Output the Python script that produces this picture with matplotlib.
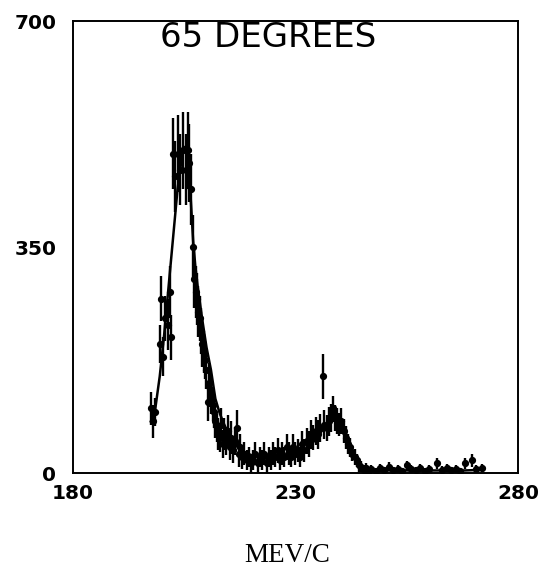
import matplotlib
matplotlib.use("Agg")
import matplotlib.pyplot as plt

# measured spectrum points (momentum MeV/c, counts, error)
mom = [197.6, 198.0, 198.4, 199.5, 199.8, 200.3, 200.7, 201.3, 201.8, 202.1,
       202.5, 203.0, 203.6, 204.1, 204.7, 205.3, 205.8, 206.1, 206.5, 206.9,
       207.3, 207.6, 207.9, 208.2, 208.5, 208.8, 209.1, 209.4, 209.7, 210.0,
       210.3, 210.5, 210.8, 211.1, 211.4, 211.7, 212.0, 212.3, 212.6, 213.0,
       213.3, 213.7, 214.0, 214.4, 214.8, 215.2, 215.6, 216.0, 216.4, 216.8,
       217.2, 217.6, 218.0, 218.5, 219.0, 219.5, 220.0, 220.5, 221.0, 221.5,
       222.0, 222.5, 223.0, 223.5, 224.0, 224.5, 225.0, 225.5, 226.0, 226.5,
       227.0, 227.5, 228.0, 228.5, 229.0, 229.5, 230.0, 230.5, 231.0, 231.5,
       232.0, 232.5, 233.0, 233.5, 234.0, 234.5, 235.0, 235.5, 236.2, 236.5,
       237.0, 237.5, 238.0, 238.4, 238.8, 239.3, 239.8, 240.3, 240.8, 241.3,
       241.8, 242.3, 242.8, 243.3, 243.8, 244.3, 244.8, 245.3, 245.8, 246.3,
       247.0, 248.0, 249.0, 250.0, 251.0, 252.0, 253.0, 254.0, 255.0, 256.0,
       257.0, 258.0, 259.0, 260.0, 261.8, 263.0, 264.0, 265.0, 266.0, 267.0,
       268.1, 269.7, 270.5, 271.9]
counts = [100, 80, 95, 200, 270, 180, 240, 230, 280, 210,
          495, 460, 495, 470, 500, 470, 500, 480, 440, 350,
          300, 280, 270, 250, 240, 220, 200, 185, 175, 160,
          110, 140, 130, 120, 105, 95, 80, 70, 60, 55,
          75, 45, 60, 50, 65, 40, 55, 35, 50, 70,
          30, 40, 25, 30, 20, 25, 15, 20, 30, 15,
          25, 20, 30, 15, 25, 20, 30, 25, 35, 20,
          30, 25, 40, 30, 25, 40, 30, 35, 25, 45,
          35, 50, 45, 60, 55, 65, 60, 70, 150, 75,
          70, 80, 85, 100, 85, 80, 75, 80, 65, 55,
          45, 40, 30, 25, 20, 12, 10, 5, 8, 2,
          6, 3, 8, 5, 10, 4, 7, 3, 12, 6,
          4, 8, 3, 6, 15, 5, 8, 4, 7, 3,
          15, 20, 6, 8]
errors = [25, 25, 22, 30, 35, 30, 35, 40, 40, 35,
          55, 55, 60, 55, 60, 55, 60, 60, 55, 50,
          45, 40, 40, 40, 35, 35, 35, 30, 30, 30,
          30, 30, 28, 28, 25, 25, 25, 22, 25, 22,
          25, 22, 25, 22, 25, 20, 25, 20, 22, 28,
          20, 20, 18, 18, 15, 15, 15, 15, 18, 15,
          15, 15, 18, 15, 15, 15, 18, 15, 20, 15,
          18, 15, 20, 18, 15, 20, 18, 18, 15, 20,
          18, 20, 20, 22, 20, 22, 22, 22, 35, 22,
          20, 22, 22, 20, 20, 20, 18, 20, 18, 18,
          15, 15, 12, 12, 10, 10, 8, 8, 8, 6,
          6, 5, 6, 5, 7, 5, 6, 5, 7, 6,
          5, 6, 5, 6, 8, 6, 6, 5, 6, 5,
          8, 10, 6, 6]

# fitted curve
fit_mom = [197.5, 198.5, 199.5, 200.5, 201.5, 202.5, 203.5, 204.5, 205.0, 205.5,
           206.0, 206.5, 207.0, 207.5, 208.0, 209.0, 210.0, 211.0, 212.0, 213.0,
           214.0, 215.0, 216.0, 217.0, 218.0, 220.0, 222.0, 224.0, 226.0, 228.0,
           230.0, 232.0, 234.0, 235.0, 236.0, 237.0, 238.0, 239.0, 240.0, 241.0,
           242.0, 243.0, 244.0, 245.0, 246.0, 248.0, 252.0, 256.0, 260.0, 264.0,
           268.0, 272.0]
fit_counts = [80, 100, 150, 215, 290, 365, 440, 490, 505, 505,
              480, 420, 360, 320, 290, 240, 195, 160, 115, 92,
              75, 60, 48, 40, 34, 28, 25, 23, 23, 24,
              26, 33, 48, 57, 66, 74, 80, 82, 78, 66,
              50, 33, 18, 9, 5, 4, 4, 4, 4, 4,
              4, 5]

x_ticks = [180, 230, 280]
y_ticks = [0, 350, 700]

fig = plt.figure(figsize=(5.39, 5.72), dpi=100)
ax = fig.add_axes([0.1354, 0.173, 0.8256, 0.79])

ax.plot(fit_mom, fit_counts, color="black", lw=1.8)
ax.errorbar(mom, counts, yerr=errors, fmt="o", color="black", ms=4.2,
            elinewidth=1.7, capsize=0)

ax.set_xlim(180, 280)
ax.set_ylim(0, 700)
ax.set_xticks(x_ticks)
ax.set_yticks(y_ticks)
ax.tick_params(length=0, labelsize=14.5)
ax.tick_params(axis="x", pad=8)
ax.tick_params(axis="y", pad=12)
for lab in ax.get_xticklabels() + ax.get_yticklabels():
    lab.set_fontweight("bold")
for s in ax.spines.values():
    s.set_linewidth(1.4)

ax.text(0.438, 0.963, "65 DEGREES", transform=ax.transAxes, ha="center",
        va="center", fontsize=24.5, family="DejaVu Sans")
fig.text(0.533, 0.028, "MEV/C", ha="center", va="center", fontsize=19.5,
         family="Liberation Serif")

fig.savefig("out.png", dpi=100)
plt.close(fig)
